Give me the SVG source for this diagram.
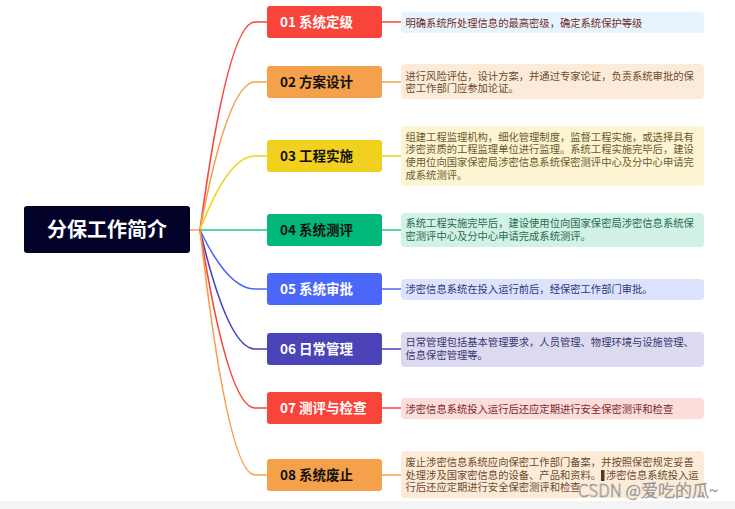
<svg xmlns="http://www.w3.org/2000/svg" width="735" height="509" viewBox="0 0 735 509">
<style>
.c{fill:none;stroke-width:1.6;stroke-linecap:round}
.lbl{font-family:"Noto Sans CJK SC","Noto Sans",sans-serif;font-size:13.5px;font-weight:700}
.t{font-family:"Noto Sans CJK SC","Noto Sans",sans-serif;font-size:10.3px}
.root{font-family:"Noto Sans CJK SC","Noto Sans",sans-serif;font-size:20px;font-weight:700;fill:#fff}
</style>
<rect width="735" height="509" fill="#fff"/>
<rect x="0" y="501" width="735" height="8" fill="#f4f4f4"/>
<g id="connectors">
<path class="c" stroke="#f5a04a" d="M190,230 H200"/>
<path class="c" stroke="#f8443b" d="M200,230 Q228,22 255,22 H267 M382,22 H401"/>
<path class="c" stroke="#f5a04a" d="M200,230 Q228,82 255,82 H267 M382,82 H401"/>
<path class="c" stroke="#f2d01e" d="M200,230 Q228,156 255,156 H267 M382,156 H401"/>
<path class="c" stroke="#1ec98a" d="M200,230 H267 M382,230 H401"/>
<path class="c" stroke="#4a67fa" d="M200,230 Q228,289 255,289 H267 M382,289 H401"/>
<path class="c" stroke="#4a44b8" d="M200,230 Q228,349 255,349 H267 M382,349 H401"/>
<path class="c" stroke="#f8443b" d="M200,230 Q228,408 255,408 H267 M382,408 H401"/>
<path class="c" stroke="#f5a04a" d="M200,230 Q228,475 255,475 H267 M382,475 H401"/>
</g>
<g id="root">
<rect x="24" y="206" width="166" height="47" rx="3" fill="#03032a"/>
<text class="root" x="107" y="237" text-anchor="middle">分保工作简介</text>
</g>
<g id="n01">
<rect x="267" y="6" width="115" height="32" rx="3" fill="#f8443b"/>
<text class="lbl" x="280" y="27" fill="#fff">01 系统定级</text>
<rect x="401" y="12" width="303" height="21" rx="4" fill="#e8f4fd"/>
<text class="t" x="405.5" y="27" fill="#6e2b2b">明确系统所处理信息的最高密级，确定系统保护等级</text>
</g>
<g id="n02">
<rect x="267" y="66" width="115" height="32" rx="3" fill="#f5a04a"/>
<text class="lbl" x="280" y="87" fill="#111">02 方案设计</text>
<rect x="401" y="64" width="303" height="35" rx="4" fill="#fdebd9"/>
<text class="t" fill="#6b4a2a"><tspan x="405.5" y="79.5">进行风险评估，设计方案，并通过专家论证，负责系统审批的保</tspan><tspan x="405.5" y="92">密工作部门应参加论证。</tspan></text>
</g>
<g id="n03">
<rect x="267" y="140" width="115" height="32" rx="3" fill="#f2d01e"/>
<text class="lbl" x="280" y="161" fill="#111">03 工程实施</text>
<rect x="401" y="126" width="303" height="60" rx="4" fill="#fcf4d2"/>
<text class="t" fill="#6b5a2a"><tspan x="405.5" y="140.5">组建工程监理机构，细化管理制度，监督工程实施，或选择具有</tspan><tspan x="405.5" y="153">涉密资质的工程监理单位进行监理。系统工程实施完毕后，建设</tspan><tspan x="405.5" y="166">使用位向国家保密局涉密信息系统保密测评中心及分中心申请完</tspan><tspan x="405.5" y="178.5">成系统测评。</tspan></text>
</g>
<g id="n04">
<rect x="267" y="214" width="115" height="32" rx="3" fill="#00b87a"/>
<text class="lbl" x="280" y="235" fill="#111">04 系统测评</text>
<rect x="401" y="213" width="303" height="34" rx="4" fill="#d2f2e6"/>
<text class="t" fill="#1f6b4f"><tspan x="405.5" y="227">系统工程实施完毕后，建设使用位向国家保密局涉密信息系统保</tspan><tspan x="405.5" y="240">密测评中心及分中心申请完成系统测评。</tspan></text>
</g>
<g id="n05">
<rect x="267" y="273" width="115" height="32" rx="3" fill="#4a67fa"/>
<text class="lbl" x="280" y="294" fill="#fff">05 系统审批</text>
<rect x="401" y="279" width="303" height="21" rx="4" fill="#dde3fd"/>
<text class="t" x="405.5" y="293" fill="#2a3a7a">涉密信息系统在投入运行前后，经保密工作部门审批。</text>
</g>
<g id="n06">
<rect x="267" y="333" width="115" height="32" rx="3" fill="#4a44b8"/>
<text class="lbl" x="280" y="354" fill="#fff">06 日常管理</text>
<rect x="401" y="332" width="303" height="35" rx="4" fill="#dcdaf0"/>
<text class="t" fill="#3a3670"><tspan x="405.5" y="345.5">日常管理包括基本管理要求，人员管理、物理环境与设施管理、</tspan><tspan x="405.5" y="359">信息保密管理等。</tspan></text>
</g>
<g id="n07">
<rect x="267" y="392" width="115" height="32" rx="3" fill="#f8443b"/>
<text class="lbl" x="280" y="413" fill="#fff">07 测评与检查</text>
<rect x="401" y="398" width="303" height="21" rx="4" fill="#fddcdc"/>
<text class="t" x="405.5" y="412.5" fill="#7a2a2a">涉密信息系统投入运行后还应定期进行安全保密测评和检查</text>
</g>
<g id="n08">
<rect x="267" y="459" width="115" height="32" rx="3" fill="#f5a04a"/>
<text class="lbl" x="280" y="480" fill="#111">08 系统废止</text>
<rect x="401" y="451" width="303" height="47" rx="4" fill="#fdebd9"/>
<text class="t" fill="#6b4a2a"><tspan x="405.5" y="466">废止涉密信息系统应向保密工作部门备案，并按照保密规定妥善</tspan><tspan x="405.5" y="478.5">处理涉及国家密信息的设备、产品和资料。</tspan><tspan x="606" y="478.5">涉密信息系统投入运</tspan><tspan x="405.5" y="491">行后还应定期进行安全保密测评和检查</tspan></text>
<rect x="601" y="470" width="3.5" height="11" fill="#5a3a1a"/>
</g>
<text x="718" y="497" text-anchor="end" font-family="'Noto Sans CJK SC','Noto Sans',sans-serif" font-size="17" font-weight="300" fill="#fff" fill-opacity="0.85" stroke="#8a8a8a" stroke-width="0.6">CSDN @爱吃的瓜~</text>
</svg>
